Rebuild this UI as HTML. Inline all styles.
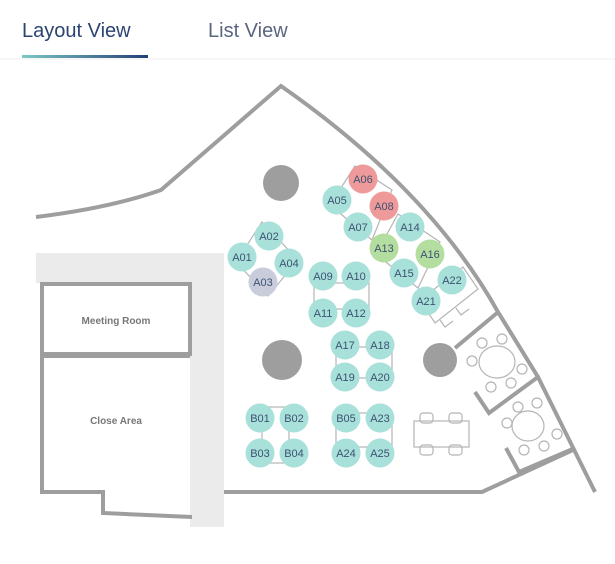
<!DOCTYPE html>
<html><head><meta charset="utf-8"><style>
html,body{margin:0;padding:0;background:#fff;width:615px;height:564px;overflow:hidden}
svg{display:block}
</style></head><body>
<svg width="615" height="564" viewBox="0 0 615 564" xmlns="http://www.w3.org/2000/svg" font-family="Liberation Sans, sans-serif">
<defs><linearGradient id="g" x1="0" x2="1"><stop offset="0" stop-color="#7cc8c4"/><stop offset="1" stop-color="#243f78"/></linearGradient></defs>
<text x="22" y="37" font-size="20" fill="#2b4470">Layout View</text>
<text x="208" y="37" font-size="20" fill="#5c6580">List View</text>
<line x1="0" y1="59" x2="615" y2="59" stroke="#ededed" stroke-width="1"/>
<rect x="22" y="55" width="126" height="3" fill="url(#g)"/>
<!-- grey areas -->
<rect x="36" y="253" width="188" height="30" fill="#ebebeb"/>
<rect x="190" y="253" width="34" height="274" fill="#ebebeb"/>
<g fill="none" stroke="#9e9e9e" stroke-width="4">
<path d="M36,217 Q110,208 161,190 L281,86 Q430,190 498,312 L538,377 L595,492"/>
<path d="M224,492 L482,492 L575,449"/>
<path d="M455,348 L497,313"/>
<path d="M475,392 L489,413 L538,377"/>
<path d="M506,448 L519,472 L575,448"/>
<rect x="42" y="284" width="148" height="70"/>
<path d="M42,356 L190,356 M42,356 L42,492 L103,492 L103,513 L192,517"/>
</g>
<g fill="#9e9e9e">
<circle cx="281" cy="183" r="18"/>
<ellipse cx="282" cy="360" rx="20" ry="20"/>
<circle cx="440" cy="360" r="17"/>
</g>
<text x="116" y="324" font-size="10" font-weight="bold" fill="#777" text-anchor="middle">Meeting Room</text>
<text x="116" y="424" font-size="10" font-weight="bold" fill="#777" text-anchor="middle">Close Area</text>
<g fill="none" stroke="#b5b5b5" stroke-width="1.2">
<ellipse cx="497" cy="362" rx="18" ry="16"/>
<circle cx="482" cy="343" r="5"/><circle cx="502" cy="339" r="5"/><circle cx="472" cy="361" r="5"/><circle cx="522" cy="369" r="5"/><circle cx="491" cy="387" r="5"/><circle cx="511" cy="383" r="5"/>
<ellipse cx="528" cy="426" rx="16" ry="15"/>
<circle cx="518" cy="407" r="5"/><circle cx="537" cy="403" r="5"/><circle cx="507" cy="423" r="5"/><circle cx="557" cy="434" r="5"/><circle cx="524" cy="450" r="5"/><circle cx="544" cy="446" r="5"/>
<rect x="414" y="421" width="55" height="26"/>
<rect x="420" y="413" width="13" height="10" rx="3"/><rect x="449" y="413" width="13" height="10" rx="3"/>
<rect x="420" y="445" width="13" height="10" rx="3"/><rect x="449" y="445" width="13" height="10" rx="3"/>
<polygon points="420,300 435,323 478,289 463,267"/>
<path d="M440,320 l5,7 8,-6 M456,308 l5,7 8,-6"/>
<polygon points="355,166 330,205 372,240 392,190"/>
<polygon points="398,214 376,254 418,288 440,242"/>
<polygon points="262,222 236,262 268,296 298,260"/>
<rect x="314" y="283" width="55" height="26"/>
<rect x="336" y="347" width="56" height="31"/>
<rect x="262" y="407" width="27" height="56"/>
<rect x="336" y="413" width="56" height="34"/>
</g>
<g font-size="11" fill="#3e5272" text-anchor="middle">
<g fill="#a8e0da">
<circle cx="337" cy="200" r="14.5"/><circle cx="358" cy="227" r="14.5"/><circle cx="410" cy="227" r="14.5"/><circle cx="404" cy="273" r="14.5"/><circle cx="452" cy="280" r="14.5"/><circle cx="426" cy="301" r="14.5"/><circle cx="269" cy="236" r="14.5"/><circle cx="242" cy="257" r="14.5"/><circle cx="289" cy="263" r="14.5"/><circle cx="323" cy="276" r="14.5"/><circle cx="356" cy="276" r="14.5"/><circle cx="323" cy="313" r="14.5"/><circle cx="356" cy="313" r="14.5"/>
<circle cx="345" cy="345" r="14.5"/><circle cx="380" cy="345" r="14.5"/><circle cx="345" cy="377" r="14.5"/><circle cx="380" cy="377" r="14.5"/>
<circle cx="260" cy="418" r="14.5"/><circle cx="294" cy="418" r="14.5"/><circle cx="260" cy="453" r="14.5"/><circle cx="294" cy="453" r="14.5"/>
<circle cx="346" cy="418" r="14.5"/><circle cx="380" cy="418" r="14.5"/><circle cx="346" cy="453" r="14.5"/><circle cx="380" cy="453" r="14.5"/>
</g>
<circle cx="363" cy="179" r="14.5" fill="#ef9a9a"/><circle cx="384" cy="206" r="14.5" fill="#ef9a9a"/>
<circle cx="384" cy="248" r="14.5" fill="#b4dea0"/><circle cx="430" cy="254" r="14.5" fill="#b4dea0"/>
<circle cx="263" cy="282" r="14.5" fill="#c9ccda"/>
<text x="363" y="183">A06</text><text x="337" y="204">A05</text><text x="384" y="210">A08</text><text x="358" y="231">A07</text><text x="410" y="231">A14</text><text x="384" y="252">A13</text><text x="430" y="258">A16</text><text x="404" y="277">A15</text><text x="452" y="284">A22</text><text x="426" y="305">A21</text>
<text x="269" y="240">A02</text><text x="242" y="261">A01</text><text x="289" y="267">A04</text><text x="263" y="286">A03</text>
<text x="323" y="280">A09</text><text x="356" y="280">A10</text><text x="323" y="317">A11</text><text x="356" y="317">A12</text>
<text x="345" y="349">A17</text><text x="380" y="349">A18</text><text x="345" y="381">A19</text><text x="380" y="381">A20</text>
<text x="260" y="422">B01</text><text x="294" y="422">B02</text><text x="260" y="457">B03</text><text x="294" y="457">B04</text>
<text x="346" y="422">B05</text><text x="380" y="422">A23</text><text x="346" y="457">A24</text><text x="380" y="457">A25</text>
</g>
</svg>
</body></html>
